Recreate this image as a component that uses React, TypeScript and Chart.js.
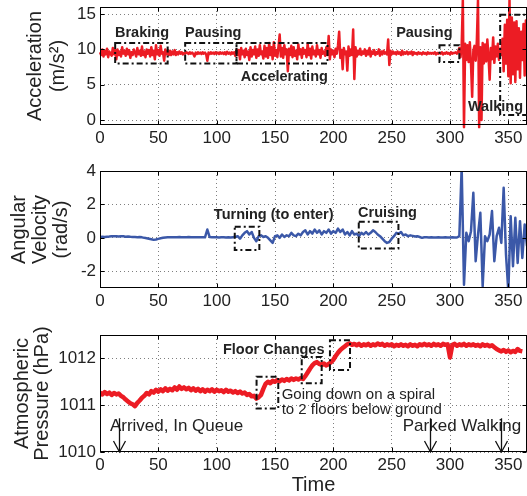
import React, { useEffect, useRef } from 'react';
import { Chart, registerables } from 'chart.js';

Chart.register(...registerables);
Chart.defaults.font.family = '"Liberation Sans", Arial, Helvetica, sans-serif';

// ---------------- data ----------------
const X_MAX = 366;
const X_STEP = 50;

// acceleration magnitude, one sample per second (t = 0 .. 366)
const ACC_DT = 1;
const ACC = [
  9.6, 9.2, 10.0, 9.0, 9.8, 9.3, 10.1, 8.9, 9.7, 9.4,
  9.1, 10.2, 9.3, 9.9, 8.6, 10.0, 9.2, 9.7, 9.0, 10.3,
  9.4, 9.8, 9.1, 10.1, 9.3, 9.9, 8.8, 9.6, 9.2, 10.0,
  9.5, 9.0, 10.2, 9.3, 9.8, 9.1, 10.4, 9.2, 9.7, 8.9,
  10.0, 9.4, 9.9, 9.0, 10.3, 9.2, 9.8, 8.6, 10.6, 9.3,
  9.9, 9.1, 10.5, 9.4, 9.6, 8.4, 10.0, 9.3, 9.8, 9.2,
  9.8, 9.2, 9.7, 9.3, 9.9, 9.2, 9.6, 9.3, 9.7, 9.4,
  9.6, 9.3, 9.5, 9.4, 9.6, 9.5, 9.35, 9.6, 9.4, 9.55,
  9.35, 9.0, 9.55, 9.35, 9.6, 9.4, 9.55, 9.35, 9.6, 9.4,
  9.55, 9.3, 8.4, 9.55, 9.35, 9.6, 9.4, 9.55, 9.35, 9.6,
  9.4, 9.55, 9.35, 9.6, 9.4, 9.55, 9.35, 9.6, 9.3, 9.65,
  9.4, 9.55, 9.3, 9.6, 9.4, 9.6, 9.1, 10.0, 9.2, 9.9,
  8.6, 10.2, 9.3, 9.8, 8.9, 10.1, 9.2, 9.7, 8.5, 10.3,
  9.0, 9.9, 9.3, 10.4, 8.8, 10.0, 9.1, 10.6, 9.3, 9.7,
  8.7, 10.5, 9.0, 10.2, 8.8, 10.9, 9.2, 10.3, 8.6, 11.0,
  9.1, 9.9, 8.9, 10.4, 12.1, 9.0, 10.2, 8.8, 10.6, 9.3,
  10.0, 6.9, 10.1, 9.2, 10.5, 8.9, 10.3, 9.1, 9.8, 8.6,
  10.7, 9.3, 10.0, 8.8, 10.2, 9.4, 9.9, 8.9, 10.8, 9.2,
  10.1, 8.7, 10.4, 9.3, 9.8, 9.0, 10.6, 9.3, 9.9, 8.8,
  10.2, 9.4, 9.7, 9.1, 10.3, 9.2, 11.9, 8.6, 10.0, 9.3,
  9.8, 8.9, 10.1, 9.4, 10.6, 12.5, 8.8, 9.9, 7.2, 10.2,
  9.3, 9.7, 7.0, 10.4, 9.1, 10.0, 9.2, 12.8, 5.8, 10.3,
  9.0, 9.8, 9.3, 10.1, 9.2, 9.7, 9.4, 10.0, 9.1, 9.8,
  9.3, 10.2, 9.0, 9.7, 9.4, 9.9, 9.2, 9.6, 9.4, 10.0,
  9.1, 9.7, 9.3, 9.8, 9.4, 9.6, 9.3, 11.4, 7.8, 9.8,
  9.3, 9.7, 9.4, 9.6, 9.3, 9.7, 9.4, 9.6, 9.2, 9.8,
  9.3, 9.6, 9.4, 9.7, 9.3, 9.6, 9.4, 9.7, 9.2, 9.6,
  9.4, 9.5, 9.3, 9.6, 9.4, 9.5, 9.3, 9.6, 9.4, 9.5,
  9.3, 9.6, 9.4, 9.5, 9.4, 9.5, 9.4, 9.6, 9.3, 9.5,
  9.4, 9.5, 9.4, 9.6, 9.3, 9.5, 9.4, 9.6, 9.4, 9.5,
  9.3, 9.6, 9.4, 9.5, 9.5, 9.6, 9.4, 9.7, 10.2, 8.9,
  10.4, 17.0, -1.0, 10.8, 8.5, 10.6, 8.2, 11.0, 7.9, 3.3,
  9.8, 10.5, 8.4, 11.2, 17.0, -1.0, 10.3, 0.0, 10.9, 8.0,
  10.7, 8.3, 11.4, 9.0, 5.7, 10.2, 8.6, 11.7, 8.1, 10.4,
  9.0, 10.8, 8.5, 10.1, 9.2, 11.5, 6.9, 13.5, 8.0, 14.2,
  6.2, 17.0, 5.2, 14.5, 6.5, 13.8, 5.4, 14.0, 7.2, 13.0,
  6.0, 12.5, 8.5, 13.6, 6.3, 14.1, 7.0,
];

// angular velocity, one sample every 2 s (t = 0 .. 366)
const GYRO_DT = 2;
const GYRO = [
  0.05, 0.06, 0.05, 0.07, 0.08, 0.10, 0.09, 0.10, 0.08, 0.10,
  0.09, 0.07, 0.08, 0.06, 0.05, 0.05, 0.04, 0.05, 0.03, 0.00,
  -0.02, -0.05, -0.08, -0.12, -0.10, -0.06, -0.02, 0.00, 0.02, 0.03,
  0.03, 0.04, 0.03, 0.04, 0.05, 0.04, 0.03, 0.04, 0.05, 0.04,
  0.03, 0.04, 0.03, 0.04, 0.03, 0.03, 0.50, 0.05, 0.03, 0.03,
  0.03, 0.02, 0.03, 0.03, 0.02, 0.03, 0.02, 0.04, 0.06, 0.10,
  -0.05, 0.15, 0.30, 0.40, 0.20, 0.35, 0.00, -0.20, 0.10, 0.15,
  0.05, 0.10, 0.00, -0.15, -0.30, 0.10, 0.15, 0.00, 0.20, 0.05,
  0.15, 0.10, 0.30, 0.15, 0.10, 0.25, 0.15, 0.35, 0.45, 0.20,
  0.40, 0.25, 0.50, 0.30, 0.45, 0.20, 0.40, 0.30, 0.50, 0.25,
  0.40, 0.30, 0.55, 0.35, 0.50, 0.20, 0.35, 0.15, 0.40, 0.20,
  0.25, 0.10, 0.30, 0.20, 0.35, 0.20, 0.30, 0.45, 0.35, 0.20,
  0.10, -0.05, -0.20, -0.30, -0.25, -0.05, 0.10, 0.30, 0.25, 0.35,
  0.15, 0.20, 0.10, 0.15, 0.12, 0.08, 0.10, 0.05, 0.00, 0.04,
  0.03, 0.02, 0.03, 0.02, 0.02, 0.03, 0.02, 0.02, 0.03, 0.02,
  0.02, 0.03, 0.02, 0.02, 0.10, 4.20, -2.80, 0.30, -0.20, 0.40,
  2.70, -1.40, 0.20, 1.50, -2.90, 0.10, -0.20, 0.20, 1.60, -1.40,
  0.10, 0.60, -0.30, 3.00, -1.00, -3.20, 1.30, -1.70, 1.20, -1.50,
  1.00, -1.20, 0.80, -0.50,
];

// atmospheric pressure, one sample every 2 s (t = 0 .. 362)
const PRES_DT = 2;
const PRES = [
  1011.27, 1011.23, 1011.28, 1011.24, 1011.27, 1011.22, 1011.26, 1011.23, 1011.25, 1011.20,
  1011.17, 1011.12, 1011.08, 1011.04, 1011.02, 1010.98, 1011.05, 1011.10, 1011.16, 1011.20,
  1011.26, 1011.23, 1011.30, 1011.27, 1011.33, 1011.29, 1011.34, 1011.30, 1011.36, 1011.31,
  1011.35, 1011.32, 1011.38, 1011.33, 1011.40, 1011.35, 1011.38, 1011.34, 1011.37, 1011.32,
  1011.36, 1011.31, 1011.35, 1011.30, 1011.34, 1011.29, 1011.33, 1011.30, 1011.34, 1011.29,
  1011.33, 1011.30, 1011.32, 1011.28, 1011.33, 1011.29, 1011.31, 1011.27, 1011.30, 1011.26,
  1011.29, 1011.25, 1011.27, 1011.22, 1011.24, 1011.19, 1011.20, 1011.14, 1011.17, 1011.22,
  1011.35, 1011.46, 1011.50, 1011.47, 1011.52, 1011.50, 1011.54, 1011.51, 1011.55, 1011.52,
  1011.56, 1011.53, 1011.57, 1011.54, 1011.57, 1011.55, 1011.58, 1011.56, 1011.62, 1011.70,
  1011.78, 1011.85, 1011.90, 1011.92, 1011.88, 1011.86, 1011.89, 1011.85, 1011.88, 1011.92,
  1011.97, 1012.05, 1012.12, 1012.18, 1012.22, 1012.26, 1012.30, 1012.32, 1012.29, 1012.31,
  1012.28, 1012.31, 1012.27, 1012.30, 1012.28, 1012.31, 1012.27, 1012.30, 1012.28, 1012.32,
  1012.29, 1012.31, 1012.27, 1012.30, 1012.28, 1012.30, 1012.26, 1012.29, 1012.27, 1012.30,
  1012.27, 1012.29, 1012.26, 1012.30, 1012.27, 1012.29, 1012.26, 1012.30, 1012.28, 1012.31,
  1012.28, 1012.30, 1012.27, 1012.31, 1012.28, 1012.30, 1012.27, 1012.31, 1012.29, 1012.30,
  1012.02, 1012.29, 1012.31, 1012.27, 1012.30, 1012.28, 1012.31, 1012.27, 1012.30, 1012.28,
  1012.30, 1012.27, 1012.29, 1012.26, 1012.30, 1012.27, 1012.29, 1012.26, 1012.28, 1012.24,
  1012.20, 1012.17, 1012.15, 1012.18, 1012.14, 1012.17, 1012.13, 1012.16, 1012.14, 1012.20,
  1012.16, 1012.15,
];

// annotations (data coordinates)
const ACC_BOXES = [
  { x1: 13, x2: 58, y1: 8.0, y2: 10.9 },
  { x1: 73, x2: 117, y1: 8.0, y2: 10.9 },
  { x1: 117, x2: 195, y1: 8.0, y2: 10.9 },
  { x1: 291, x2: 308, y1: 8.2, y2: 10.6 },
  { x1: 343, x2: 372, y1: 0.7, y2: 14.9 },
];
const ACC_LABELS = [
  { x: 36, y: 12.3, text: 'Braking', bold: true, size: 14.5, align: 'center' },
  { x: 97, y: 12.3, text: 'Pausing', bold: true, size: 14.5, align: 'center' },
  { x: 158, y: 6.1, text: 'Accelerating', bold: true, size: 14.5, align: 'center' },
  { x: 278, y: 12.3, text: 'Pausing', bold: true, size: 14.5, align: 'center' },
  { x: 339, y: 1.9, text: 'Walking', bold: true, size: 14.5, align: 'center' },
];
const GYRO_BOXES = [
  { x1: 115.5, x2: 136.6, y1: -0.73, y2: 0.67 },
  { x1: 221.8, x2: 255.8, y1: -0.63, y2: 0.97 },
];
const GYRO_LABELS = [
  { x: 148.9, y: 1.37, text: 'Turning (to enter)', bold: true, size: 14.5, align: 'center' },
  { x: 246.4, y: 1.47, text: 'Cruising', bold: true, size: 14.5, align: 'center' },
];
const PRES_BOXES = [
  { x1: 134.2, x2: 152.8, y1: 1010.93, y2: 1011.61 },
  { x1: 172.9, x2: 190, y1: 1011.47, y2: 1012.03 },
  { x1: 197.1, x2: 214.3, y1: 1011.75, y2: 1012.39 },
];
const PRES_LABELS = [
  { x: 148.9, y: 1012.19, text: 'Floor Changes', bold: true, size: 14.5, align: 'center' },
  { x: 155.7, y: 1011.23, text: 'Going down on a spiral', bold: false, size: 15, align: 'left' },
  { x: 155.7, y: 1010.9, text: 'to 2 floors below ground', bold: false, size: 15, align: 'left' },
  { x: 8.5, y: 1010.54, text: 'Arrived, In Queue', bold: false, size: 17, align: 'left' },
  { x: 259.5, y: 1010.54, text: 'Parked Walking', bold: false, size: 17, align: 'left' },
];
const PRES_ARROWS = [
  { x: 16.5, y1: 1010.72, y2: 1010 },
  { x: 283, y1: 1010.72, y2: 1010 },
  { x: 343.4, y1: 1010.72, y2: 1010 },
];

// ---------------- drawing helpers ----------------
const FONT = '"Liberation Sans", Arial, Helvetica, sans-serif';
const TEXT = '#222';
const GRID = 'rgba(0,0,0,0.5)';

const panelPlugin = {
  id: 'panel',
  afterDatasetsDraw(chart: any, _args: any, opts: any) {
    const { ctx, chartArea: a, scales } = chart;
    const xs = scales.x;
    const ys = scales.y;
    const line = (x1: number, y1: number, x2: number, y2: number) => {
      ctx.beginPath();
      ctx.moveTo(x1, y1);
      ctx.lineTo(x2, y2);
      ctx.stroke();
    };
    ctx.save();
    // axes box
    ctx.setLineDash([]);
    ctx.strokeStyle = '#000';
    ctx.lineWidth = 1;
    const L = Math.round(a.left) + 0.5;
    const R = Math.round(a.right) - 0.5;
    const T = Math.round(a.top) + 0.5;
    const B = Math.round(a.bottom) - 0.5;
    ctx.strokeRect(L, T, R - L, B - T);
    // inward ticks on all sides
    const TL = 4;
    for (const t of xs.ticks) {
      const px = Math.round(xs.getPixelForValue(t.value)) + 0.5;
      line(px, B, px, B - TL);
      line(px, T, px, T + TL);
    }
    for (const t of ys.ticks) {
      const py = Math.round(ys.getPixelForValue(t.value)) + 0.5;
      line(L, py, L + TL, py);
      line(R, py, R - TL, py);
    }
    // annotation boxes
    ctx.strokeStyle = '#111';
    ctx.lineWidth = 2;
    ctx.setLineDash([6, 3, 2, 3]);
    for (const b of opts.boxes || []) {
      const x1 = xs.getPixelForValue(b.x1);
      const x2 = xs.getPixelForValue(b.x2);
      const y1 = ys.getPixelForValue(b.y1);
      const y2 = ys.getPixelForValue(b.y2);
      ctx.strokeRect(x1, y2, x2 - x1, y1 - y2);
    }
    ctx.setLineDash([]);
    // labels
    ctx.fillStyle = TEXT;
    ctx.textBaseline = 'middle';
    for (const l of opts.labels || []) {
      ctx.font = `${l.bold ? 'bold ' : ''}${l.size}px ${FONT}`;
      ctx.textAlign = l.align;
      ctx.fillText(l.text, xs.getPixelForValue(l.x), ys.getPixelForValue(l.y));
    }
    // arrows
    ctx.strokeStyle = '#111';
    ctx.lineWidth = 1.3;
    for (const ar of opts.arrows || []) {
      const x = Math.round(xs.getPixelForValue(ar.x)) + 0.5;
      const y1 = ys.getPixelForValue(ar.y1);
      const y2 = ys.getPixelForValue(ar.y2);
      line(x, y1, x, y2);
      ctx.beginPath();
      ctx.moveTo(x - 6, y2 - 11);
      ctx.lineTo(x, y2);
      ctx.lineTo(x + 6, y2 - 11);
      ctx.stroke();
    }
    ctx.restore();
  },
};

function series(values: number[], dt: number) {
  return values.map((v, i) => ({ x: i * dt, y: v }));
}

const plainTick = (v: any) => String(v);

function makeConfig(p: any): any {
  return {
    type: 'line',
    data: {
      datasets: [
        {
          data: p.points,
          borderColor: p.color,
          borderWidth: p.lw,
          pointRadius: 0,
          fill: false,
          tension: 0,
          clip: p.clip,
          borderJoinStyle: 'round',
        },
      ],
    },
    options: {
      animation: false,
      responsive: false,
      events: [],
      layout: { padding: { top: p.padTop, left: 0, right: 0, bottom: 0 } },
      plugins: {
        legend: { display: false },
        tooltip: { enabled: false },
        panel: { boxes: p.boxes, labels: p.labels, arrows: p.arrows },
      },
      scales: {
        x: {
          type: 'linear',
          min: 0,
          max: X_MAX,
          afterFit: (s: any) => {
            s.height = p.xAxisH;
            s.paddingLeft = 0;
            s.paddingRight = 0;
          },
          ticks: {
            stepSize: X_STEP,
            includeBounds: false,
            autoSkip: false,
            maxRotation: 0,
            padding: 3,
            color: TEXT,
            font: { size: 17, family: FONT },
            callback: plainTick,
          },
          grid: { color: GRID, lineWidth: 1, drawTicks: false },
          border: { display: false, dash: [1, 3] },
          title: p.xTitle
            ? {
                display: true,
                text: p.xTitle,
                color: TEXT,
                font: { size: 20, family: FONT, lineHeight: 1.0 },
                padding: { top: 0, bottom: 1 },
              }
            : { display: false },
        },
        y: {
          type: 'linear',
          min: p.yMin,
          max: p.yMax,
          afterFit: (s: any) => {
            s.width = 100;
            s.paddingTop = 0;
            s.paddingBottom = 0;
          },
          ticks: {
            stepSize: p.yStep,
            includeBounds: false,
            padding: 4,
            color: TEXT,
            font: { size: 17, family: FONT },
            callback: plainTick,
          },
          grid: { color: GRID, lineWidth: 1, drawTicks: false },
          border: { display: false, dash: [1, 3] },
          title: {
            display: true,
            text: p.yTitle,
            color: TEXT,
            font: { size: 20, family: FONT, lineHeight: p.titleLH },
            padding: { top: p.titlePad, bottom: 0 },
          },
        },
      },
    },
    plugins: [panelPlugin],
  };
}

export default function App() {
  const c1 = useRef<HTMLCanvasElement>(null);
  const c2 = useRef<HTMLCanvasElement>(null);
  const c3 = useRef<HTMLCanvasElement>(null);

  useEffect(() => {
    const charts = [
      new Chart(
        c1.current as HTMLCanvasElement,
        makeConfig({
          points: series(ACC, ACC_DT),
          color: '#ec1c24',
          lw: 2.5,
          clip: false,
          padTop: 7,
          xAxisH: 25,
          yMin: -0.7,
          yMax: 16,
          yStep: 5,
          yTitle: ['Acceleration', '(m/s²)'],
          titleLH: 1.15,
          titlePad: 24,
          boxes: ACC_BOXES,
          labels: ACC_LABELS,
          arrows: [],
        })
      ),
      new Chart(
        c2.current as HTMLCanvasElement,
        makeConfig({
          points: series(GYRO, GYRO_DT),
          color: '#3b58a8',
          lw: 2.5,
          clip: undefined,
          padTop: 21,
          xAxisH: 32,
          yMin: -3,
          yMax: 4,
          yStep: 2,
          yTitle: ['Angular', 'Velocity', '(rad/s)'],
          titleLH: 1.05,
          titlePad: 9,
          boxes: GYRO_BOXES,
          labels: GYRO_LABELS,
          arrows: [],
        })
      ),
      new Chart(
        c3.current as HTMLCanvasElement,
        makeConfig({
          points: series(PRES, PRES_DT),
          color: '#ec1c24',
          lw: 4.5,
          clip: undefined,
          padTop: 15,
          xAxisH: 44,
          yMin: 1010,
          yMax: 1012.5,
          yStep: 1,
          yTitle: ['Atmospheric', 'Pressure (hPa)'],
          titleLH: 1.0,
          titlePad: 12,
          xTitle: 'Time',
          boxes: PRES_BOXES,
          labels: PRES_LABELS,
          arrows: PRES_ARROWS,
        })
      ),
    ];
    return () => charts.forEach((c) => c.destroy());
  }, []);

  return (
    <div style={{ position: 'absolute', left: 0, top: 0, width: 527, height: 496, background: '#fff', overflow: 'hidden' }}>
      <canvas ref={c1} width={527} height={150} style={{ position: 'absolute', left: 0, top: 0 }} />
      <canvas ref={c2} width={527} height={170} style={{ position: 'absolute', left: 0, top: 150 }} />
      <canvas ref={c3} width={527} height={176} style={{ position: 'absolute', left: 0, top: 320 }} />
    </div>
  );
}
